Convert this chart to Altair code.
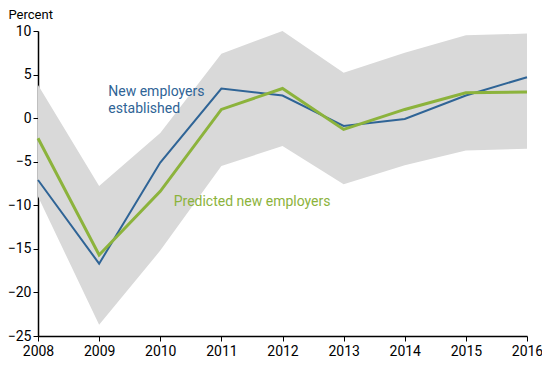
import altair as alt
import pandas as pd

years = [2008, 2009, 2010, 2011, 2012, 2013, 2014, 2015, 2016]
band_upper = [3.8, -7.8, -1.7, 7.4, 10.0, 5.2, 7.5, 9.5, 9.7]
band_lower = [-9.0, -23.7, -15.2, -5.5, -3.2, -7.6, -5.4, -3.7, -3.5]
established = [-7.1, -16.7, -5.1, 3.4, 2.6, -0.9, -0.1, 2.6, 4.7]
predicted = [-2.3, -15.7, -8.4, 1.0, 3.4, -1.3, 1.0, 2.9, 3.0]

label_text = ["New employers", "established", "Predicted new employers"]
label_x = [2009.15, 2009.15, 2010.22]
label_y = [2.5, 0.55, -10.1]
label_series = ["est", "est", "pred"]

BLUE = "#2f6496"
GREEN = "#8cb33c"
GRAY = "#d9d9d9"

df = pd.DataFrame({
    "year": years,
    "upper": band_upper,
    "lower": band_lower,
    "established": established,
    "predicted": predicted,
})
labels = pd.DataFrame({"x": label_x, "y": label_y, "text": label_text, "s": label_series})

xenc = alt.X("year:Q", scale=alt.Scale(domain=[2008, 2016], nice=False),
             axis=alt.Axis(values=years, format="d", title=None, grid=False,
                           tickSize=5, labelFontSize=14, labelPadding=3,
                           labelFlush=False, labelOverlap=False))
yscale = alt.Scale(domain=[-25, 10], nice=False)
yaxis = alt.Axis(values=[-25, -20, -15, -10, -5, 0, 5, 10], title="Percent", grid=False,
                 tickSize=5, labelFontSize=14, labelPadding=2,
                 titleAngle=0, titleAlign="left", titleBaseline="alphabetic",
                 titleX=-30, titleY=-13, titleFontSize=13, titleFontWeight="normal")

band = alt.Chart(df).mark_area(color=GRAY, opacity=1).encode(
    x=xenc,
    y=alt.Y("upper:Q", scale=yscale, axis=yaxis),
    y2="lower:Q",
)
line_est = alt.Chart(df).mark_line(color=BLUE, strokeWidth=2).encode(
    x="year:Q", y="established:Q")
line_pred = alt.Chart(df).mark_line(color=GREEN, strokeWidth=3).encode(
    x="year:Q", y="predicted:Q")
text = alt.Chart(labels).mark_text(align="left", baseline="alphabetic", fontSize=14).encode(
    x="x:Q", y="y:Q", text="text:N",
    color=alt.Color("s:N", scale=alt.Scale(domain=["est", "pred"], range=[BLUE, GREEN]), legend=None),
)

chart = alt.layer(band, line_est, line_pred, text).properties(
    width=489, height=305,
    autosize=alt.AutoSizeParams(type="none"),
    padding={"left": 30, "top": 23, "right": 15, "bottom": 30},
).configure_view(stroke=None).configure_axis(
    domainColor="black", tickColor="black", labelColor="black", titleColor="black",
    labelFont="Roboto", titleFont="Roboto", domainWidth=1.5,
).configure_text(font="Roboto")

chart.save("out.html", embed_options={"renderer": "svg", "actions": False})
